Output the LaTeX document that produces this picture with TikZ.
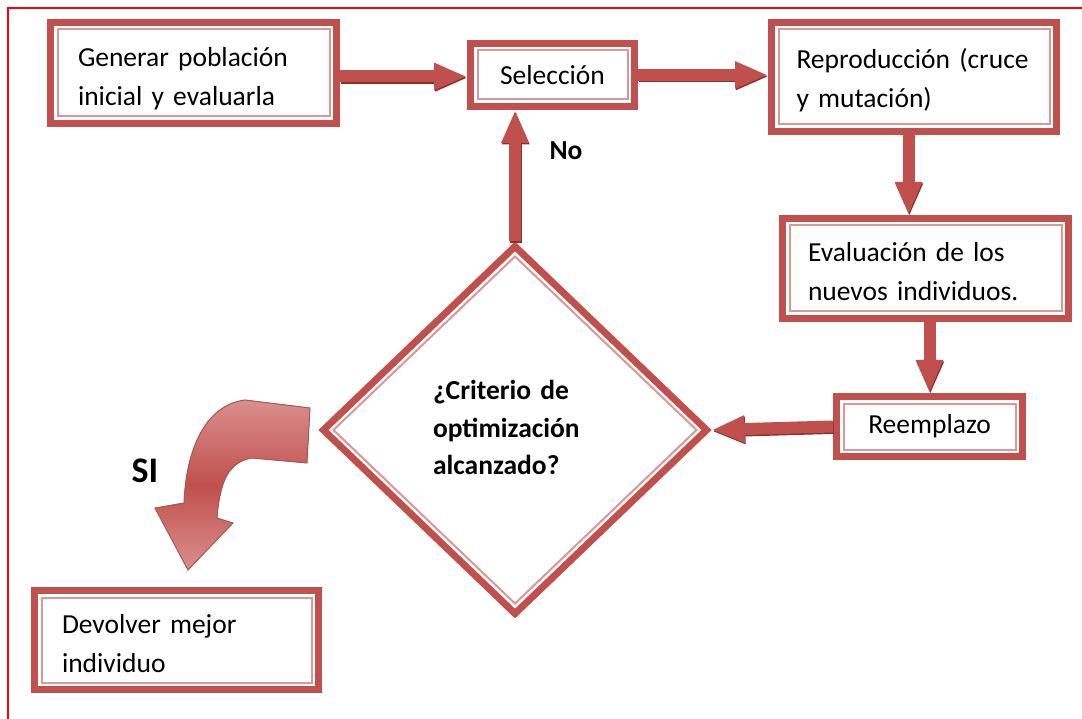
\documentclass[tikz,border=0pt]{standalone}
\usepackage{fontspec}
\setmainfont{Carlito}[WordSpace=0.55]
\usetikzlibrary{arrows.meta,shapes.geometric,calc}
\definecolor{bred}{HTML}{C0504D}
\definecolor{pinkl}{HTML}{DA9795}
\definecolor{adark}{HTML}{8C2F2D}
\definecolor{alight}{HTML}{DA8F8D}
\tikzset{
  box/.style={draw=bred, line width=7pt, rectangle, inner sep=0pt, align=left,
    font=\fontsize{27.5}{39}\selectfont,
    path picture={\draw[pinkl, line width=2pt]
      ([shift={(7pt,-7pt)}]path picture bounding box.north west) rectangle
      ([shift={(-7pt,7pt)}]path picture bounding box.south east);}},
  dia/.style={draw=bred, line width=7pt, diamond, inner sep=0pt, align=left,
    font=\fontsize{27.5}{37.5}\selectfont\bfseries,
    path picture={\draw[pinkl, line width=2pt]
      ($(path picture bounding box.north)+(0,-10pt)$) --
      ($(path picture bounding box.east)+(-10pt,0)$) --
      ($(path picture bounding box.south)+(0,10pt)$) --
      ($(path picture bounding box.west)+(10pt,0)$) -- cycle;}},
  blockarr/.style={draw=bred, line width=12pt, -{Triangle[length=33pt,width=25pt]}},
  blockshadow/.style={draw=adark, line width=12pt, -{Triangle[length=33pt,width=25pt]},
    transform canvas={shift={(0.8pt,-1.4pt)}}},
  lbl/.style={font=\fontsize{27.5}{33}\selectfont\bfseries, inner sep=0pt}
}
\begin{document}
\begin{tikzpicture}[x=1pt,y=-1pt]
\useasboundingbox (0,0) rectangle (1082,719);
\fill[white] (0,0) rectangle (1082,719);
\draw[red, line width=1.5pt] (8,719) -- (8,8) -- (1082,8);

% boxes
\node[box, minimum width=286pt, minimum height=101pt, text width=231pt, text height=30.5pt] (g) at (193.5,73) {Generar población\\inicial y evaluarla};
\node[box, minimum width=164pt, minimum height=63pt] (s) at (552.5,75) {Selección};
\node[box, minimum width=285pt, minimum height=109pt, text width=235pt, text height=26pt] (r) at (914,77) {Reproducción (cruce\\y mutación)};
\node[box, minimum width=286pt, minimum height=100pt, text width=235pt, text height=26pt] (e) at (925.5,268.5) {Evaluación de los\\nuevos individuos.};
\node[box, minimum width=186pt, minimum height=60pt] (rm) at (929.5,426.5) {Reemplazo};
\node[box, minimum width=284pt, minimum height=99pt, text width=229pt, text height=27pt] (dv) at (176.5,640) {Devolver mejor\\individuo};

% decision
\node[dia, minimum width=386pt, minimum height=370pt, text width=164pt, text height=15pt] (d) at (515,430) {¿Criterio de\\optimización\\alcanzado?};

% straight block arrows
\draw[blockshadow] (g.east |- 0,76.5) -- (s.west |- 0,76.5);
\draw[blockarr] (g.east |- 0,76.5) -- (s.west |- 0,76.5);
\draw[blockshadow] (s.east) -- (s.east -| r.west);
\draw[blockarr] (s.east) -- (s.east -| r.west);
\draw[blockshadow] ([xshift=-5.5pt]r.south) -- ([xshift=-5.5pt]r.south |- e.north);
\draw[blockarr] ([xshift=-5.5pt]r.south) -- ([xshift=-5.5pt]r.south |- e.north);
\draw[blockshadow] (e.south -| rm.north) -- (rm.north);
\draw[blockarr] (e.south -| rm.north) -- (rm.north);
\draw[blockshadow] (rm.west) -- (d.east);
\draw[blockarr] (rm.west) -- (d.east);
\draw[blockshadow] (d.north) -- (d.north |- s.south);
\draw[blockarr] (d.north) -- (d.north |- s.south);

% curved arrow (SI)
\filldraw[draw=adark!80, line width=1pt, top color=alight, bottom color=alight, middle color=bred]
  (310,408) -- (245,400) .. controls (205,405) and (186,450) .. (184,503)
  -- (155,508) -- (188,570) -- (233,523) -- (217,518)
  .. controls (220,482) and (228,462) .. (252,458) -- (307,463) -- cycle;

% labels
\node[lbl] (no) at (566,151) {No};
\node[lbl, font=\fontsize{36}{40}\selectfont\bfseries] (si) at (145,471) {SI};
\end{tikzpicture}
\end{document}
